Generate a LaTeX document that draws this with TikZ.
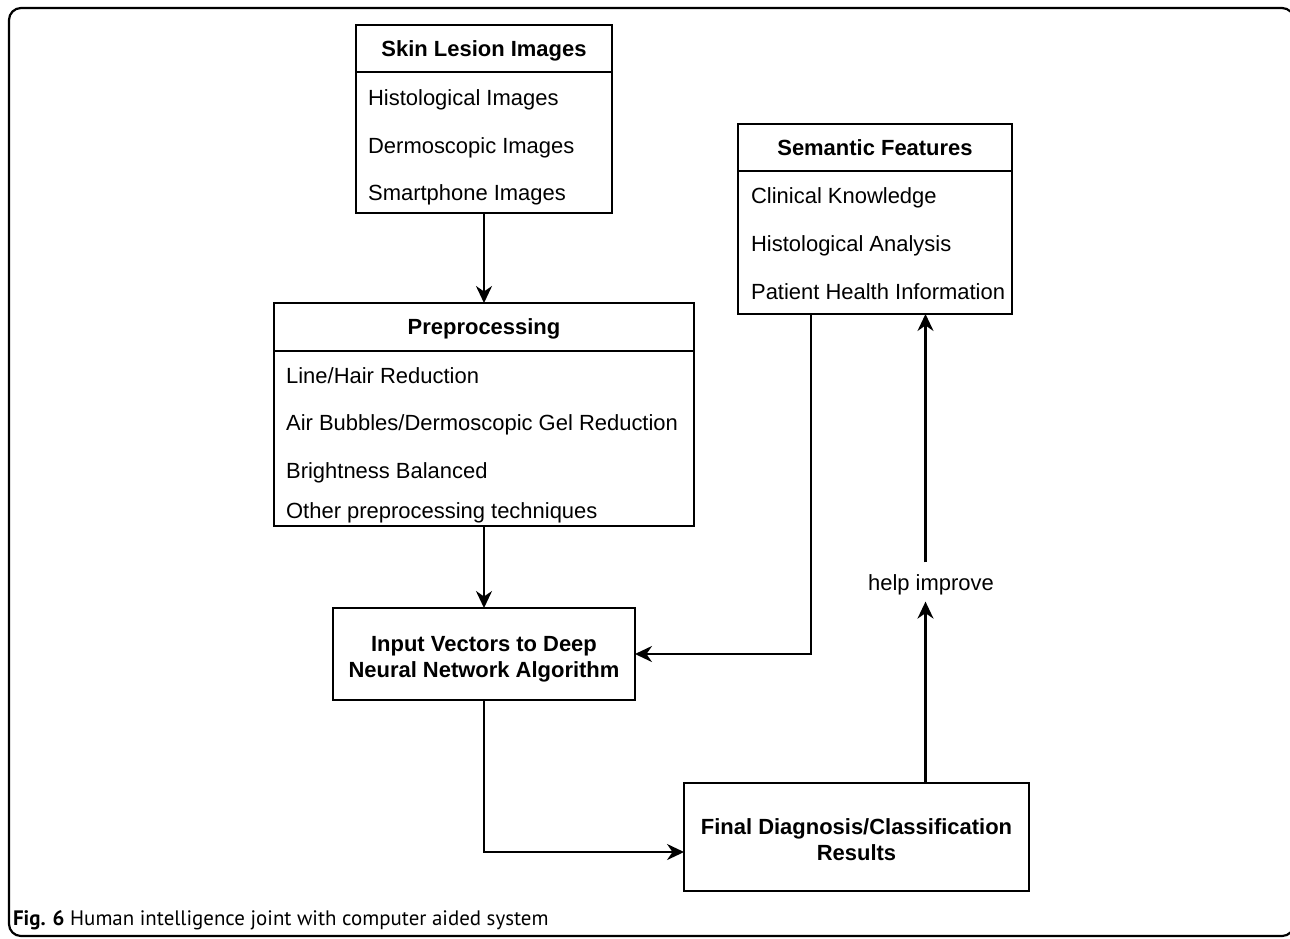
\documentclass[tikz,border=0pt]{standalone}
\usepackage{fontspec}
\setmainfont{Liberation Sans}
\newfontfamily\capfont{PT Sans}
\usetikzlibrary{arrows.meta,positioning}

\begin{document}
\begin{tikzpicture}[x=0.02cm, y=-0.02cm, line width=1.25pt, font=\fontsize{12.5}{14.2}\selectfont,
        >={Stealth[length=0.34cm, width=0.32cm, inset=0.11cm]}]
        \tikzstyle{head}=[draw, rectangle, outer sep=0pt, minimum height=0.94cm, text height=9pt, text depth=0pt, font=\fontsize{12.5}{14.2}\selectfont\bfseries]
        \tikzstyle{body}=[draw, rectangle, outer sep=0pt]
        \tikzstyle{item}=[inner sep=0pt, anchor=west, text height=9pt, text depth=0pt]
        \tikzstyle{stage}=[draw, rectangle, outer sep=0pt, align=center, font=\fontsize{12.5}{14.6}\selectfont\bfseries]
        \tikzstyle{arr}=[->]

        \useasboundingbox (0,0) rectangle (1290,938);
        \draw[rounded corners=0.24cm] (9,8) rectangle (1294,936);

        % image sources
        \node[head, minimum width=5.12cm] (skin) at (484,48.5) {Skin Lesion Images};
        \node[body, minimum width=5.12cm, minimum height=2.82cm, below=0cm of skin] (skinbody) {};
        \node[item] (skin1) at ([xshift=0.22cm, yshift=-0.52cm]skinbody.north west) {Histological Images};
        \node[item, below=0.95cm of skin1.west, anchor=west] (skin2) {Dermoscopic Images};
        \node[item, below=0.95cm of skin2.west, anchor=west] (skin3) {Smartphone Images};

        % semantic features
        \node[head, minimum width=5.48cm] (sem) at (875,147.5) {Semantic Features};
        \node[body, minimum width=5.48cm, minimum height=2.86cm, below=0cm of sem] (sembody) {};
        \node[item] (sem1) at ([xshift=0.24cm, yshift=-0.5cm]sembody.north west) {Clinical Knowledge};
        \node[item, below=0.96cm of sem1.west, anchor=west] (sem2) {Histological Analysis};
        \node[item, below=0.96cm of sem2.west, anchor=west] (sem3) {Patient Health Information};

        % preprocessing
        \node[head, minimum width=8.4cm, minimum height=0.96cm] (prep) at (484,327) {Preprocessing};
        \node[body, minimum width=8.4cm, minimum height=3.5cm, below=0cm of prep] (prepbody) {};
        \node[item] (prep1) at ([xshift=0.22cm, yshift=-0.5cm]prepbody.north west) {Line/Hair Reduction};
        \node[item, below=0.94cm of prep1.west, anchor=west] (prep2) {Air Bubbles/Dermoscopic Gel Reduction};
        \node[item, below=0.96cm of prep2.west, anchor=west] (prep3) {Brightness Balanced};
        \node[item, below=0.8cm of prep3.west, anchor=west] (prep4) {Other preprocessing techniques};

        \node[stage, minimum width=6.04cm, minimum height=1.84cm] (input) at (484,654) {\rule{0pt}{14.5pt}Input Vectors to Deep\\Neural Network Algorithm};
        \node[stage, minimum width=6.9cm, minimum height=2.16cm] (final) at (856.5,837) {\rule{0pt}{12pt}Final Diagnosis/Classification\\Results};
        \node[inner sep=3pt] (help) at (931,585) {help improve};

        \draw[arr] (skinbody.south) -- (prep.north);
        \draw[arr] (prepbody.south) -- (input.north);
        \draw[arr] ([xshift=1.46cm]sembody.south west) |- (input.east);
        \draw[arr] (input.south) |- ([yshift=-0.3cm]final.west);

        \coordinate (fb) at ([xshift=1.38cm]final.north);
        \draw[arr] (fb) -- (fb |- help.south);
        \draw[arr] ([yshift=0.12cm]fb |- help.north) -- (fb |- sembody.south);

        \node[anchor=base west, inner sep=0pt, font=\capfont\fontsize{11.9}{14}\selectfont] (cap) at (12,925) {\textbf{Fig. 6} Human intelligence joint with computer aided system};

    \end{tikzpicture}
\end{document}
